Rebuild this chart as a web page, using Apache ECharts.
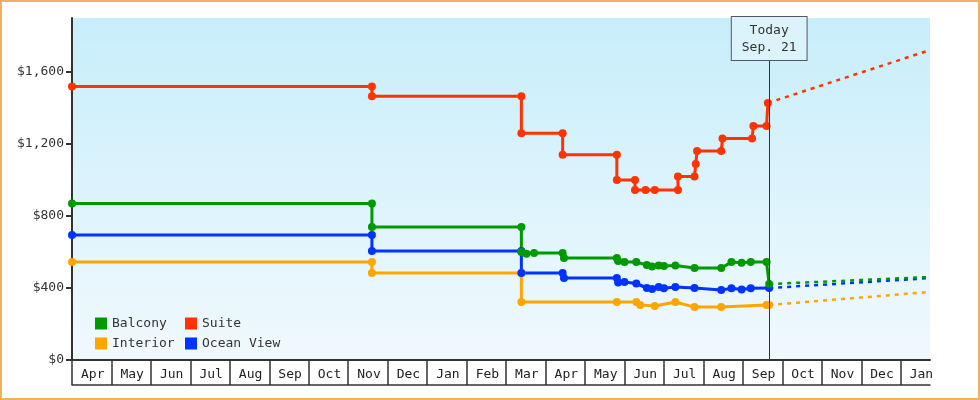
<!DOCTYPE html>
<html><head><meta charset="utf-8">
<script src="https://cdn.jsdelivr.net/npm/echarts@6/dist/echarts.min.js"></script>
<style>html,body{margin:0;padding:0;background:#fff}#c{width:976px;height:396px;border:2px solid #f0b060}</style>
</head><body><div id="c"></div>
<script>
const monthLabels = ['Apr','May','Jun','Jul','Aug','Sep','Oct','Nov','Dec','Jan','Feb','Mar','Apr','May','Jun','Jul','Aug','Sep','Oct','Nov','Dec','Jan'];
const yTicks = [0,400,800,1200,1600];
const today = '2024-09-21';
const endDate = '2025-01-24';
const suite = [['2023-04-01',1520],['2023-11-19',1520],['2023-11-19',1465],['2024-03-13',1465],['2024-03-13',1260],['2024-04-14',1260],['2024-04-14',1140],['2024-05-26',1140],['2024-05-26',1000],['2024-06-09',1000],['2024-06-09',945],['2024-06-17',945],['2024-06-24',945],['2024-07-12',945],['2024-07-12',1020],['2024-07-25',1020],['2024-07-26',1089],['2024-07-27',1161],['2024-08-15',1161],['2024-08-16',1230],['2024-09-08',1230],['2024-09-09',1300],['2024-09-19',1300],['2024-09-20',1428]];
const balcony = [['2023-04-01',870],['2023-11-19',870],['2023-11-19',739],['2024-03-13',739],['2024-03-13',600],['2024-03-17',590],['2024-03-23',595],['2024-04-14',595],['2024-04-15',567],['2024-05-26',567],['2024-05-27',550],['2024-06-01',544],['2024-06-10',544],['2024-06-18',528],['2024-06-22',520],['2024-06-27',525],['2024-07-01',522],['2024-07-10',525],['2024-07-25',511],['2024-08-15',511],['2024-08-23',544],['2024-08-31',540],['2024-09-07',544],['2024-09-19',544],['2024-09-21',422]];
const ocean = [['2023-04-01',695],['2023-11-19',695],['2023-11-19',605],['2024-03-13',605],['2024-03-13',483],['2024-04-14',483],['2024-04-15',455],['2024-05-26',455],['2024-05-27',430],['2024-06-01',433],['2024-06-10',425],['2024-06-18',400],['2024-06-22',395],['2024-06-27',405],['2024-07-01',398],['2024-07-10',405],['2024-07-25',400],['2024-08-15',389],['2024-08-23',398],['2024-08-31',392],['2024-09-07',398],['2024-09-21',400]];
const interior = [['2023-04-01',545],['2023-11-19',545],['2023-11-19',483],['2024-03-13',483],['2024-03-13',322],['2024-05-26',322],['2024-06-10',322],['2024-06-13',306],['2024-06-24',300],['2024-07-10',322],['2024-07-25',294],['2024-08-15',294],['2024-09-19',306],['2024-09-21',306]];
const projection = {Suite:1722, Balcony:461, 'Ocean View':455, Interior:378};

function toM(s){const [y,m,d]=s.split('-').map(Number);const dim=new Date(y,m,0).getDate();return (y-2023)*12+(m-4)+(d-1)/dim;}
const conv = a => a.map(p=>[toM(p[0]),p[1]]);
const colors = {Balcony:'#009900',Suite:'#ff3300',Interior:'#ffa500','Ocean View':'#0033ff'};
const raw = {Balcony:balcony,Suite:suite,Interior:interior,'Ocean View':ocean};
const tM = toM(today), eM = toM(endDate);
const font = 'DejaVu Sans Mono';
const series = [];
['Interior','Ocean View','Balcony','Suite'].forEach(n=>{
  const d = conv(raw[n]);
  series.push({name:n,type:'line',data:d,color:colors[n],lineStyle:{width:3},symbol:'circle',symbolSize:8,z:3,animation:false});
  series.push({name:n+'_p',type:'line',data:[d[d.length-1],[eM,projection[n]]],color:colors[n],lineStyle:{width:2.5,type:[4,5]},symbol:'none',z:2,animation:false,tooltip:{show:false}});
});
series.push({type:'line',data:[],markLine:{symbol:'none',silent:true,animation:false,lineStyle:{color:'#333',width:1,type:'solid'},
  label:{position:'end',formatter:'Today\nSep. 21',fontFamily:font,fontSize:13,color:'#333',backgroundColor:'#ddf3fb',borderColor:'#556',borderWidth:1,padding:[5,10,4,10],lineHeight:17,distance:0},
  data:[[{coord:[tM,0]},{coord:[tM,1667]}]]}});
const chart = echarts.init(document.getElementById('c'));
chart.setOption({
  animation:false,
  grid:{left:70,right:48,top:16,bottom:38,show:true,borderWidth:0,
    backgroundColor:new echarts.graphic.LinearGradient(0,0,0,1,[{offset:0,color:'#c7eefb'},{offset:1,color:'#f1f9fd'}])},
  legend:[
    {data:['Balcony','Interior'],orient:'vertical',left:88,top:310,itemWidth:12,itemHeight:12,itemGap:7,icon:'rect',textStyle:{fontFamily:font,fontSize:13,color:'#333'}},
    {data:['Suite','Ocean View'],orient:'vertical',left:178,top:310,itemWidth:12,itemHeight:12,itemGap:7,icon:'rect',textStyle:{fontFamily:font,fontSize:13,color:'#333'}}
  ],
  xAxis:[
    {type:'value',min:0,max:eM,interval:1,
      axisLine:{lineStyle:{color:'#333',width:2}},
      axisTick:{show:true,length:25,lineStyle:{color:'#333',width:1.5}},
      splitLine:{show:false},
      axisLabel:{showMaxLabel:false,align:'left',margin:8,formatter:v=>'{a|'+(monthLabels[Math.round(v)]||'')+'}',
        rich:{a:{padding:[0,0,0,9],fontFamily:font,fontSize:13,color:'#222'}}}},
    {type:'value',min:0,max:eM,position:'bottom',offset:25,axisLine:{lineStyle:{color:'#333',width:1.5}},axisTick:{show:false},axisLabel:{show:false},splitLine:{show:false}}
  ],
  yAxis:{type:'value',min:0,max:1900,interval:400,
    axisLine:{show:true,lineStyle:{color:'#333',width:2}},
    axisTick:{show:true,length:6,lineStyle:{color:'#333',width:2}},
    splitLine:{show:false},
    axisLabel:{fontFamily:font,fontSize:13,color:'#333',showMaxLabel:false,formatter:v=>yTicks.includes(v)?'$'+v.toLocaleString('en-US'):''}},
  series
});
</script></body></html>
